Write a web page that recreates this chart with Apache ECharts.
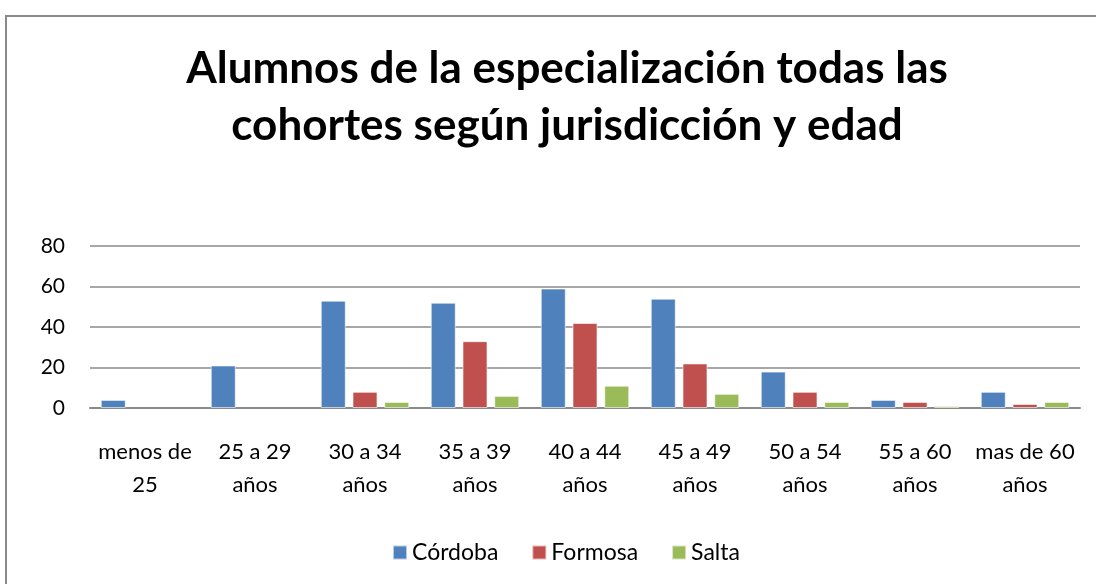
<!DOCTYPE html>
<html>
<head>
<meta charset="utf-8">
<script src="https://cdn.jsdelivr.net/npm/echarts@6/dist/echarts.min.js"></script>
<style>
  html, body { margin: 0; padding: 0; background: #fff; }
  .frame {
    position: absolute; left: 5px; top: 15px; width: 1100px; height: 600px;
    border: 2px solid #8a8a8a; box-sizing: border-box;
  }
  #chart { position: absolute; left: 0; top: 0; width: 1096px; height: 584px; }
</style>
</head>
<body>
<div class="frame"></div>
<div id="chart"></div>
<script>
// categorías y valores
var edades = ['menos de\n25', '25 a 29\naños', '30 a 34\naños', '35 a 39\naños', '40 a 44\naños',
  '45 a 49\naños', '50 a 54\naños', '55 a 60\naños', 'mas de 60\naños'];
var cordoba = [4, 21, 53, 52, 59, 54, 18, 4, 8];
var formosa = [null, null, 8, 33, 42, 22, 8, 3, 2];
var salta = [null, null, 3, 6, 11, 7, 3, 1, 3];
var yTicks = [0, 20, 40, 60, 80];

var chart = echarts.init(document.getElementById('chart'));
var fuente = 'Lato, "Open Sans", sans-serif';

function serie(nombre, datos, color) {
  return {
    name: nombre,
    type: 'bar',
    data: datos,
    barWidth: 25,
    barGap: '27%',
    itemStyle: { color: color, borderColor: 'rgba(255,255,255,0.6)', borderWidth: 1 }
  };
}

var option = {
  animation: false,
  title: {
    text: 'Alumnos de la especialización todas las\ncohortes según jurisdicción y edad',
    left: 562,
    textAlign: 'center',
    top: 35,
    textStyle: { fontFamily: fuente, fontSize: 44, fontWeight: 'bold', color: '#000', lineHeight: 57 }
  },
  legend: {
    data: ['Córdoba', 'Formosa', 'Salta'],
    left: 387,
    top: 536,
    icon: 'rect',
    itemWidth: 14,
    itemHeight: 14,
    itemGap: 33,
    textStyle: { fontFamily: fuente, fontSize: 23, color: '#000' }
  },
  grid: { left: 90, right: 16, top: 246, bottom: 176 },
  xAxis: {
    type: 'category',
    data: edades,
    axisTick: { show: false },
    axisLine: { lineStyle: { color: '#8a8a8a', width: 2 } },
    axisLabel: {
      interval: 0,
      fontFamily: fuente, fontSize: 22, color: '#000', lineHeight: 33, margin: 27
    }
  },
  yAxis: {
    type: 'value',
    min: yTicks[0],
    max: yTicks[yTicks.length - 1],
    interval: 20,
    axisLine: { show: false },
    axisTick: { show: false },
    axisLabel: { fontFamily: fuente, fontSize: 21, color: '#000', margin: 25 },
    splitLine: { lineStyle: { color: '#8a8a8a', width: 1.5 } }
  },
  series: [
    serie('Córdoba', cordoba, '#4F81BD'),
    serie('Formosa', formosa, '#C0504D'),
    serie('Salta', salta, '#9BBB59')
  ]
};
chart.setOption(option);
</script>
</body>
</html>
